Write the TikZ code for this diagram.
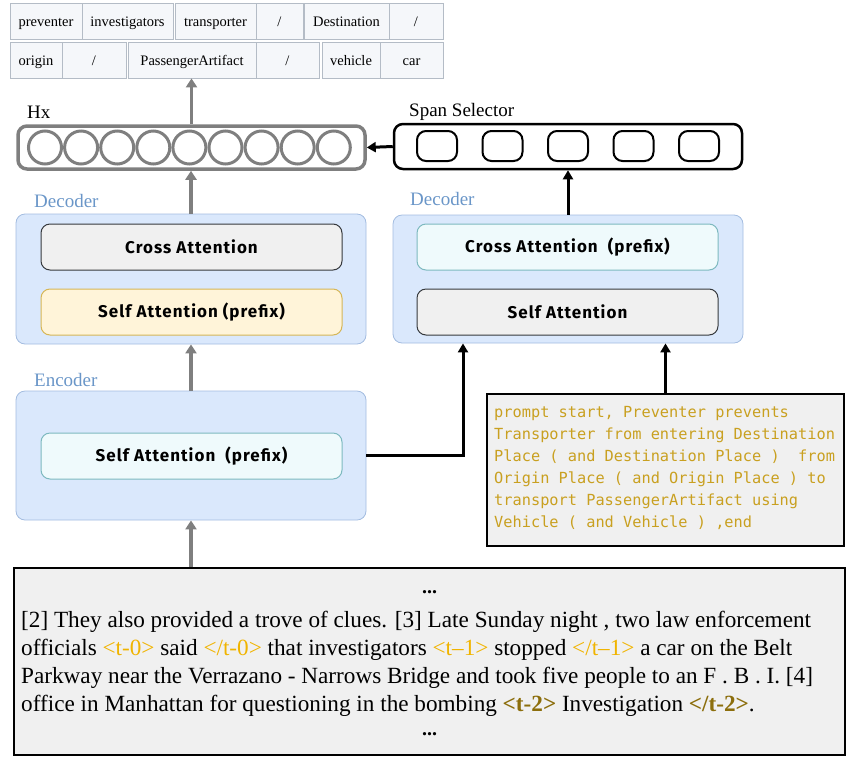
\documentclass[tikz,border=0pt]{standalone}
\usepackage{fontspec}
\setmainfont{Liberation Serif}
\newfontfamily\promptfont{DejaVu Sans Mono}
\newfontfamily\blockfont[LetterSpace=6]{Fira Sans}
\usetikzlibrary{arrows.meta,positioning}
\definecolor{cellfill}{HTML}{F5F7FA}
\definecolor{cellline}{HTML}{B4BCC6}
\definecolor{stackfill}{HTML}{DAE8FC}
\definecolor{stackline}{HTML}{A3BCE0}
\definecolor{grayfill}{HTML}{F0F0F0}
\definecolor{grayline}{HTML}{36393D}
\definecolor{tealfill}{HTML}{EFFAFC}
\definecolor{tealline}{HTML}{7DB9BF}
\definecolor{yellowfill}{HTML}{FFF4D9}
\definecolor{yellowline}{HTML}{D6B656}
\definecolor{arrowgray}{HTML}{7F7F7F}
\definecolor{labelblue}{HTML}{6A96C8}
\definecolor{promptgold}{HTML}{C9A020}
\definecolor{taglight}{HTML}{F0B400}
\definecolor{tagdark}{HTML}{8C6E0C}
\newcommand{\taglt}[1]{{\color{taglight}#1}}
\newcommand{\tagdk}[1]{{\color{tagdark}\bfseries #1}}

\tikzset{
  cell/.style={draw=cellline, fill=cellfill, line width=0.8pt, minimum height=36pt, inner sep=0pt,
    text height=12pt, text depth=2pt, font=\fontsize{14.5}{16}\selectfont},
  stack/.style={draw=stackline, fill=stackfill, line width=0.8pt, rounded corners=9pt, minimum width=350pt},
  layer/.style={rounded corners=9pt, line width=1pt, minimum width=301pt, minimum height=46pt, inner sep=0pt,
    font=\blockfont\bfseries\fontsize{17}{19}\selectfont},
  graylayer/.style={layer, draw=grayline, fill=grayfill},
  teallayer/.style={layer, draw=tealline, fill=tealfill},
  yellowlayer/.style={layer, draw=yellowline, fill=yellowfill},
  lbl/.style={anchor=west, inner sep=0pt, font=\fontsize{19}{21}\selectfont},
  bluelbl/.style={lbl, text=labelblue},
  grayarrow/.style={draw=arrowgray, line width=3.5pt, -{Triangle[length=9pt,width=11pt]}},
  blackarrow/.style={draw=black, line width=3pt, -{Triangle[length=9pt,width=10pt]}},
  hxunit/.style={circle, draw=arrowgray, line width=3pt, minimum size=33pt, inner sep=0pt},
  spanunit/.style={draw=black, line width=2pt, rounded corners=9pt, minimum width=40pt, minimum height=30pt, inner sep=0pt},
  textbox/.style={draw=black, fill=grayfill}
}

\begin{document}
\begin{tikzpicture}[x=1pt, y=-1pt]
  \useasboundingbox (0,0) rectangle (853,758);

  \node[cell, minimum width=72pt] (preventer) at (46,21) {preventer};
  \node[cell, minimum width=91pt] (investigators) at (127.5,21) {investigators};
  \node[cell, minimum width=81pt] (transporter) at (215.5,21) {transporter};
  \node[cell, minimum width=47pt] (transporterArg) at (279.5,21) {/};
  \node[cell, minimum width=85pt] (destination) at (346.5,21) {Destination};
  \node[cell, minimum width=54pt] (destinationArg) at (416,21) {/};
  \node[cell, minimum width=52pt] (origin) at (36,60) {origin};
  \node[cell, minimum width=64pt] (originArg) at (94,60) {/};
  \node[cell, minimum width=128pt] (artifact) at (192,60) {PassengerArtifact};
  \node[cell, minimum width=63pt] (artifactArg) at (287.5,60) {/};
  \node[cell, minimum width=58pt] (vehicle) at (351,60) {vehicle};
  \node[cell, minimum width=63pt] (vehicleArg) at (411.5,60) {car};

  \node[lbl] (hxLabel) at (27,112) {Hx};
  \node[draw=arrowgray, line width=3.5pt, rounded corners=9pt, minimum width=347pt, minimum height=43pt] (hx) at (191.5,147.5) {};
  \foreach \i in {0,...,8}
    \node[hxunit] (hx\i) at (45+36.1*\i,147.5) {};

  \node[lbl] (spanLabel) at (409,112) {Span Selector};
  \node[draw=black, line width=2.5pt, rounded corners=9pt, minimum width=348pt, minimum height=45pt] (span) at (568,146.5) {};
  \foreach \i in {0,...,4}
    \node[spanunit] (span\i) at (437+65.5*\i,146) {};

  \node[bluelbl] (leftDecLabel) at (34,201) {Decoder};
  \node[stack, minimum height=130pt] (leftDec) at (191,279) {};
  \node[graylayer] (leftCross) at (191.5,247) {Cross Attention};
  \node[yellowlayer] (leftSelf) at (191.5,312) {Self Attention (prefix)};

  \node[bluelbl] (encLabel) at (34,380) {Encoder};
  \node[stack, minimum height=129pt] (encoder) at (191,455.5) {};
  \node[teallayer] (encSelf) at (191.5,456) {Self Attention\ \ (prefix)};

  \node[bluelbl] (rightDecLabel) at (410,199) {Decoder};
  \node[stack, minimum height=128pt] (rightDec) at (568,279) {};
  \node[teallayer] (rightCross) at (567.5,247) {Cross Attention\ \ (prefix)};
  \node[graylayer] (rightSelf) at (567.5,312) {Self Attention};

  \node[textbox, line width=2pt, minimum width=357pt, minimum height=152pt] (prompt) at (665.5,470) {};
  \node[anchor=north west, align=left, inner sep=0pt, text=promptgold,
    font=\promptfont\fontsize{15.3}{22}\selectfont] (promptText) at (494,406)
    {prompt start, Preventer prevents\\Transporter from entering Destination\\Place ( and Destination Place )\ \ from\\Origin Place ( and Origin Place ) to\\transport PassengerArtifact using\\Vehicle ( and Vehicle ) ,end};

  \node[textbox, line width=2.5pt, minimum width=831pt, minimum height=187pt] (doc) at (429.5,661.5) {};
  \node[font=\bfseries\fontsize{20}{22}\selectfont, inner sep=0pt] (docTop) at (429.5,592) {...};
  \node[anchor=west, align=left, inner sep=0pt, font=\fontsize{23.2}{28}\selectfont] (docText) at (21,664)
    {[2] They also provided a trove of clues. [3] Late Sunday night , two law enforcement\\
     officials \taglt{<t-0>} said \taglt{</t-0>} that investigators \taglt{<t--1>} stopped \taglt{</t--1>} a car on the Belt\\
     Parkway near the Verrazano - Narrows Bridge and took five people to an F . B . I. [4]\\
     office in Manhattan for questioning in the bombing \tagdk{<t-2>} Investigation \tagdk{</t-2>}.};
  \node[font=\bfseries\fontsize{20}{22}\selectfont, inner sep=0pt] (docBottom) at (429.5,734) {...};

  \draw[grayarrow] (hx.north) -- (hx.north |- artifact.south);
  \draw[grayarrow] (leftDec.north) -- (leftDec.north |- hx.south);
  \draw[grayarrow] (encoder.north) -- (leftDec.south);
  \draw[grayarrow] (doc.north -| encoder.south) -- (encoder.south);
  \draw[blackarrow] (span.west) -- (hx.east);
  \draw[blackarrow] (rightDec.north) -- (span.south);
  \draw[blackarrow] (encoder.east) -| ([xshift=-105pt]rightDec.south);
  \draw[blackarrow] (prompt.north) -- (prompt.north |- rightDec.south);
\end{tikzpicture}
\end{document}
